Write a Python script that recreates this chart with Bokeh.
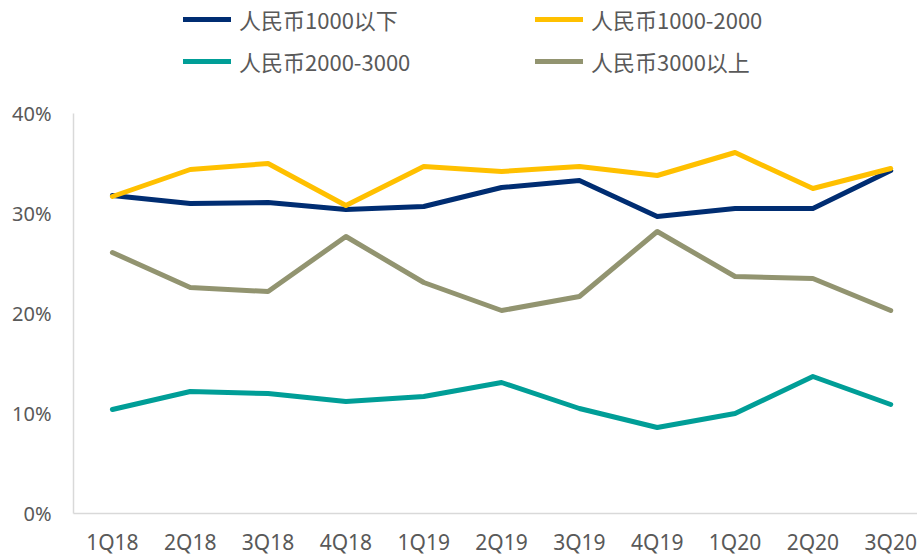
from bokeh.plotting import figure
from bokeh.models import Range1d, FixedTicker, NumeralTickFormatter, Legend, LegendItem
from bokeh.embed import file_html
from bokeh.resources import INLINE

categories = ["1Q18", "2Q18", "3Q18", "4Q18", "1Q19", "2Q19", "3Q19", "4Q19", "1Q20", "2Q20", "3Q20"]
series_names = ["人民币1000以下", "人民币1000-2000", "人民币2000-3000", "人民币3000以上"]
below_1000 = [0.318, 0.310, 0.311, 0.304, 0.307, 0.326, 0.333, 0.297, 0.305, 0.305, 0.343]
r1000_2000 = [0.317, 0.344, 0.350, 0.308, 0.347, 0.342, 0.347, 0.338, 0.361, 0.325, 0.345]
r2000_3000 = [0.104, 0.122, 0.120, 0.112, 0.117, 0.131, 0.105, 0.086, 0.100, 0.137, 0.109]
above_3000 = [0.261, 0.226, 0.222, 0.277, 0.231, 0.203, 0.217, 0.282, 0.237, 0.235, 0.203]
colors = ["#002D72", "#FFC000", "#009E97", "#929470"]
y_ticks = [0.0, 0.1, 0.2, 0.3, 0.4]

xs = list(range(len(categories)))

p = figure(width=917, height=558, output_backend="svg", toolbar_location=None,
           x_range=Range1d(-0.5, 10.344), y_range=Range1d(0, 0.513),
           min_border_left=73, min_border_right=0, min_border_top=0, min_border_bottom=45)
p.outline_line_color = None
p.background_fill_color = "white"
p.border_fill_color = "white"
p.xgrid.visible = False
p.ygrid.visible = False

items = []
for name, vals, c in zip(series_names, [below_1000, r1000_2000, r2000_3000, above_3000], colors):
    r = p.line(xs, vals, line_color=c, line_width=5, line_cap="round", line_join="round")
    items.append(LegendItem(label=name, renderers=[r]))

legend = Legend(items=items, location=(110, 436), orientation="horizontal", ncols=2,
                border_line_color=None, background_fill_alpha=0, padding=0, margin=0,
                spacing=10, label_height=32, label_width=286, glyph_width=48, glyph_height=32,
                label_standoff=8, label_text_font="Noto Sans CJK SC", label_text_font_size="22px",
                label_text_color="#595959")
p.add_layout(legend)

for ax in (p.xaxis, p.yaxis):
    ax.axis_line_color = "#D9D9D9"
    ax.axis_line_width = 1.5
    ax.major_tick_line_color = None
    ax.minor_tick_line_color = None
    ax.major_tick_out = 0
    ax.major_tick_in = 0
    ax.major_label_text_color = "#595959"
    ax.major_label_text_font = "Noto Sans"

p.yaxis.bounds = (0, 0.4)

p.xaxis.ticker = FixedTicker(ticks=xs)
p.xaxis.major_label_overrides = {i: c for i, c in zip(xs, categories)}
p.xaxis.major_label_text_font_size = "21px"
p.xaxis.major_label_standoff = 14

p.yaxis.ticker = FixedTicker(ticks=y_ticks)
p.yaxis.formatter = NumeralTickFormatter(format="0%")
p.yaxis.major_label_text_font_size = "20px"
p.yaxis.major_label_standoff = 22

open("out.html", "w").write(file_html(p, INLINE))
